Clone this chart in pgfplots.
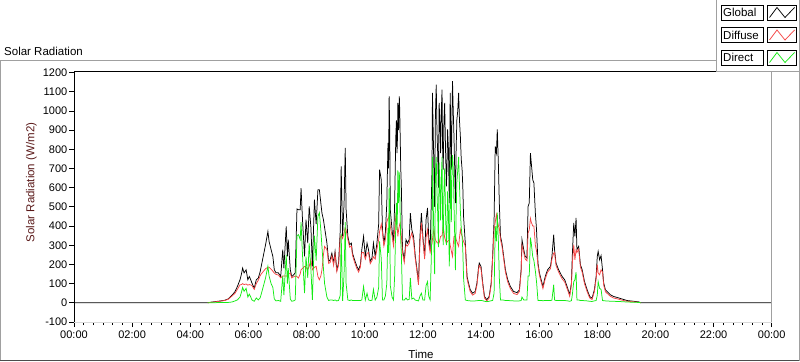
\documentclass[border=0pt]{standalone}
\usepackage{pgfplots}
\pgfplotsset{compat=1.18}
\usepackage{pgfplotstable}
\usepackage{fontspec}
\setmainfont{Liberation Sans}
\definecolor{cRed}{RGB}{245,70,70}
\definecolor{cGreen}{RGB}{20,235,20}
\definecolor{cFrame}{RGB}{160,160,160}
\definecolor{cYlab}{RGB}{90,25,25}

\pgfplotstableread{
t G D B
0 0 nan nan
4.60 0 0 0
4.70 3 2 0
4.80 5 4 0
4.90 7 6 1
5.00 9 8 1
5.10 11 10 1
5.20 14 13 1
5.30 20 18 2
5.37 30 27 3
5.45 42 37 5
5.54 59 50 10
5.62 85 70 15
5.71 120 94 30
5.76 150 95 55
5.80 181 100 80
5.85 156 95 60
5.92 172 98 75
5.98 120 92 30
6.03 137 95 45
6.08 120 93 30
6.12 103 90 15
6.20 76 70 8
6.27 120 100 25
6.34 129 118 15
6.40 160 140 25
6.44 190 150 45
6.52 250 165 90
6.59 303 178 130
6.67 372 185 190
6.71 320 185 140
6.78 277 175 100
6.84 242 165 80
6.89 172 155 20
6.95 156 148 10
7.03 156 145 12
7.11 137 130 8
7.18 277 140 140
7.22 180 140 40
7.30 398 140 250
7.34 242 140 100
7.37 329 150 180
7.44 172 155 20
7.49 137 130 8
7.55 145 135 10
7.61 156 140 15
7.67 489 137 350
7.72 485 129 355
7.78 485 150 330
7.81 598 172 420
7.86 433 180 250
7.93 242 190 50
7.98 433 185 240
8.04 311 172 130
8.09 502 190 310
8.15 392 224 170
8.20 190 172 15
8.27 537 185 350
8.33 410 190 220
8.39 589 137 450
8.44 589 120 470
8.49 520 140 380
8.53 467 172 290
8.58 433 250 180
8.62 392 294 100
8.70 311 277 30
8.76 216 205 12
8.81 224 210 15
8.87 259 245 15
8.93 207 195 12
8.98 268 255 15
9.04 172 162 10
9.10 207 195 12
9.16 381 346 40
9.19 711 350 360
9.24 346 335 10
9.29 520 364 150
9.33 807 390 420
9.36 485 380 100
9.42 346 330 15
9.48 303 290 12
9.54 311 296 15
9.58 259 247 12
9.65 224 212 12
9.73 190 178 12
9.79 172 160 12
9.85 198 185 12
9.90 277 262 15
9.96 346 262 85
10.02 242 228 14
10.08 311 258 50
10.13 277 262 15
10.19 216 204 12
10.25 233 220 13
10.30 311 240 70
10.36 242 228 14
10.42 311 280 30
10.48 410 329 80
10.51 694 370 320
10.57 641 410 230
10.61 381 366 15
10.66 311 296 15
10.71 364 329 35
10.76 520 420 100
10.80 833 440 390
10.82 700 440 260
10.84 1076 467 600
10.86 900 430 460
10.88 485 398 90
10.94 381 350 30
10.99 311 296 15
11.03 520 380 140
11.05 700 420 280
11.07 868 450 420
11.09 950 420 520
11.11 780 400 380
11.125 850 380 470
11.14 1042 346 690
11.165 900 380 520
11.19 1076 400 680
11.205 1000 410 590
11.22 868 416 450
11.24 700 380 320
11.26 607 350 260
11.30 277 262 15
11.36 224 210 14
11.42 329 303 25
11.47 311 296 15
11.53 329 311 18
11.57 467 340 130
11.62 381 364 20
11.68 346 320 25
11.74 242 228 14
11.80 172 160 12
11.85 103 93 10
11.90 346 311 35
11.95 467 416 50
12.00 346 330 15
12.06 242 228 14
12.11 433 340 90
12.16 494 381 110
12.20 346 311 35
12.25 277 262 15
12.29 520 294 230
12.315 700 310 390
12.33 1094 330 760
12.355 900 360 540
12.38 694 381 310
12.405 500 350 150
12.43 955 329 620
12.445 1050 325 720
12.46 1137 320 760
12.485 900 315 580
12.51 780 311 470
12.535 600 311 290
12.56 1042 311 730
12.585 950 330 620
12.61 780 346 430
12.635 1000 348 650
12.66 1111 350 760
12.68 800 370 430
12.70 694 398 300
12.725 950 370 580
12.75 1042 340 700
12.78 800 325 470
12.81 607 311 300
12.83 700 315 380
12.85 903 320 580
12.88 800 325 470
12.91 520 329 190
12.925 700 315 380
12.94 1094 300 760
12.96 900 285 600
12.98 694 270 420
13.00 950 255 690
13.02 1155 242 770
13.045 1000 300 700
13.07 868 346 520
13.095 700 346 350
13.12 520 346 170
13.145 800 330 470
13.17 955 320 630
13.20 1000 305 690
13.23 1094 294 760
13.26 950 340 610
13.29 868 381 480
13.32 750 360 390
13.35 694 346 350
13.375 600 330 270
13.40 450 320 130
13.46 311 296 15
13.52 137 125 12
13.57 103 92 11
13.63 68 58 10
13.71 50 40 10
13.80 59 49 10
13.86 103 92 11
13.92 190 178 12
13.94 207 195 12
14.00 190 178 12
14.06 103 92 11
14.12 33 25 8
14.20 16 10 6
14.28 33 25 8
14.35 103 92 11
14.40 242 230 12
14.45 433 380 50
14.49 815 420 400
14.53 780 460 320
14.56 903 430 470
14.60 711 400 310
14.63 520 390 130
14.67 346 330 15
14.72 311 296 15
14.78 242 228 14
14.84 172 160 12
14.92 120 108 12
15.01 85 74 11
15.12 59 49 10
15.24 53 43 10
15.32 68 58 10
15.38 172 160 12
15.41 329 300 30
15.47 277 262 15
15.52 242 228 14
15.58 233 219 14
15.62 502 364 140
15.66 520 380 140
15.70 780 440 340
15.73 728 420 310
15.78 641 400 240
15.82 624 400 220
15.87 467 300 165
15.91 381 270 110
15.96 207 195 12
16.01 155 143 12
16.07 120 108 12
16.13 85 74 11
16.21 137 125 12
16.29 172 160 12
16.39 190 178 12
16.44 242 228 14
16.50 355 259 95
16.53 277 262 15
16.58 207 195 12
16.67 172 160 12
16.79 137 125 12
16.88 120 108 12
16.98 76 66 10
17.05 42 34 8
17.11 103 92 11
17.14 242 200 40
17.19 416 303 110
17.23 346 224 120
17.27 442 277 160
17.30 277 262 15
17.36 294 280 15
17.42 198 186 12
17.48 172 160 12
17.56 111 100 11
17.65 68 58 10
17.74 33 25 8
17.82 24 17 7
17.90 68 58 10
17.96 137 125 12
18.00 242 200 40
18.03 268 155 110
18.08 224 146 75
18.13 246 172 70
18.18 172 160 12
18.22 103 92 11
18.28 68 58 10
18.34 59 49 10
18.45 42 34 8
18.56 33 25 8
18.68 28 21 7
18.85 20 14 6
19.02 12 8 4
19.25 8 5 3
19.42 5 3 2
19.50 0 0 0
24 0 nan nan
}\solar

\begin{document}
\begin{tikzpicture}[x=1bp,y=1bp,font=\fontsize{11.5bp}{13bp}\selectfont]
\path[use as bounding box] (0,0) rectangle (800,361);
% outer panel
\draw[cFrame, line width=1bp] (0,300.5) -- (716.7,300.5);
\draw[cFrame, line width=1bp] (0.5,300.5) -- (0.5,0.5);
\draw[black!70, line width=1bp] (0,0.5) -- (800,0.5);
\draw[cFrame, line width=1bp] (799.5,0.5) -- (799.5,289.3);
\node[anchor=west, inner sep=0pt] at (4,310) {Solar Radiation};

\begin{axis}[
  at={(74bp,39bp)}, anchor=south west,
  scale only axis, width=697.7bp, height=249.5bp,
  xmin=0, xmax=24, ymin=-100, ymax=1200,
  axis line style={draw=none},
  tick pos=left, tick align=outside,
  xtick={0,2,...,24},
  xticklabels={00:00,02:00,04:00,06:00,08:00,10:00,12:00,14:00,16:00,18:00,20:00,22:00,00:00},
  minor x tick num=5,
  ytick={-100,0,...,1200},
  yticklabels={-100,0,100,200,300,400,500,600,700,800,900,1000,1100,1200},
  major tick length=5bp, minor tick length=3bp,
  tick style={black, line width=0.75pt},
  tick label style={font=\fontsize{11bp}{13bp}\selectfont, black},
  yticklabel style={inner sep=1.5bp},
  unbounded coords=jump,
]
\addplot[black, line width=0.75pt] table[x=t,y=G]{\solar};
\addplot[cRed, line width=0.75pt] table[x=t,y=D]{\solar};
\addplot[cGreen, line width=0.75pt] table[x=t,y=B]{\solar};
\end{axis}

% plot frame
\draw[black, line width=1bp] (74,289.5) -- (771.7,289.5);
\draw[black, line width=1bp] (74,289.5) -- (74,39);
\draw[cFrame, line width=1bp] (771.7,289.5) -- (771.7,39);
\draw[black!15, line width=1bp] (74,39) -- (771.7,39);

\node at (421,7) {Time};
\node[rotate=90, text=cYlab] at (31.5,178.5) {Solar Radiation (W/m2)};

% legend panel
\fill[white] (716.7,289.3) rectangle (800,361);
\draw[cFrame, line width=1bp] (716.7,361) -- (716.7,289.3) -- (800,289.3);
\draw[cFrame, line width=1bp] (799.5,289.3) -- (799.5,361);
\foreach \dy/\lab/\col in {0/Global/black, 22.5/Diffuse/cRed, 45/Direct/cGreen}{
  \draw[black, line width=0.8bp] (721,356-\dy) rectangle (763,341-\dy);
  \node[anchor=west, inner sep=0pt] at (723,348.5-\dy) {\lab};
  \draw[black, line width=0.8bp] (767.5,356-\dy) rectangle (796.5,341-\dy);
  \draw[\col, line width=0.75pt] (769.5,343.5-\dy) -- (777,353.5-\dy) -- (785,343.5-\dy) -- (794.5,353.5-\dy);
}
\end{tikzpicture}
\end{document}
